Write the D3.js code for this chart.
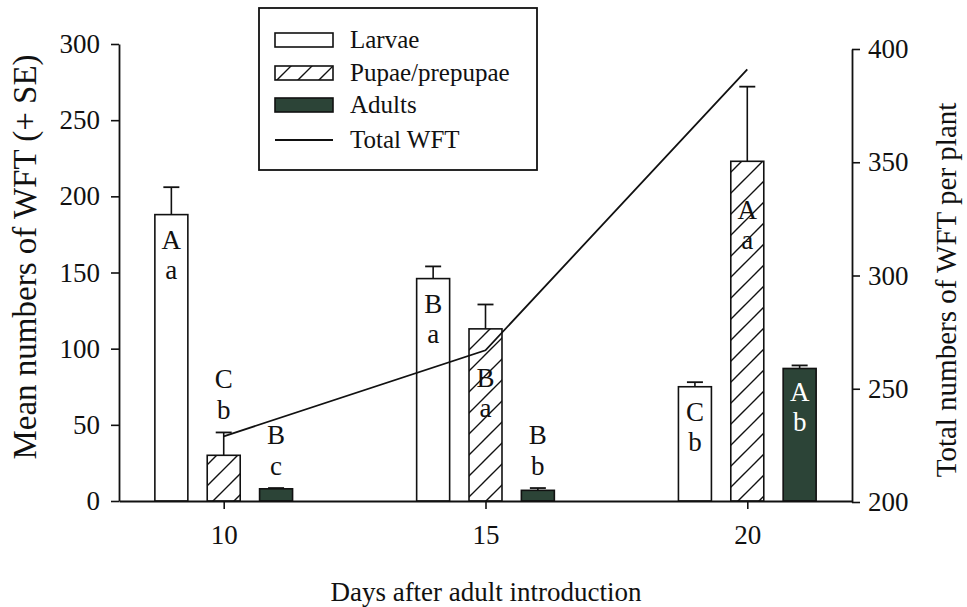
<!DOCTYPE html>
<html><head><meta charset="utf-8">
<script src="https://cdn.jsdelivr.net/npm/d3@7"></script>
<style>
body{margin:0;background:#fff;}
svg{display:block;font-family:"Liberation Serif","Times New Roman",serif;}
</style></head>
<body><svg id="c" width="967" height="607"></svg>
<script>
const days = [10, 15, 20];
const larvae = [188, 146, 75];
const larvaeErr = [206, 154, 78];
const pupae = [30, 113, 223];
const pupaeErr = [45, 129, 272];
const adults = [8, 7, 87];
const adultsErr = [8.5, 8.5, 89];
const totalWFT = [229, 267, 391];
const larvaeLetters = [["A","a"],["B","a"],["C","b"]];
const pupaeLetters = [["C","b"],["B","a"],["A","a"]];
const adultsLetters = [["B","c"],["B","b"],["A","b"]];
const leftTicks = [0, 50, 100, 150, 200, 250, 300];
const rightTicks = [200, 250, 300, 350, 400];
const seriesNames = ["Larvae", "Pupae/prepupae", "Adults", "Total WFT"];

const svg = d3.select("#c");
const x = d3.scaleLinear().domain([8, 22]).range([119, 852]);
const yL = d3.scaleLinear().domain([0, 300]).range([501, 44]);
const yR = d3.scaleLinear().domain([200, 400]).range([502, 49]);
const dark = "#2c4437";

const defs = svg.append("defs");
const pat = defs.append("pattern").attr("id","hatch").attr("patternUnits","userSpaceOnUse")
  .attr("width",21).attr("height",21);
pat.append("rect").attr("width",21).attr("height",21).attr("fill","#fff");
pat.append("path").attr("d","M-3,24 L24,-3 M-3,3 L3,-3 M18,24 L24,18")
  .attr("stroke","#111").attr("stroke-width",1.4);

const series = [
  {vals: larvae, err: larvaeErr, letters: larvaeLetters, off: -1, fill: "#fff", inOff: 34, txt:"#111"},
  {vals: pupae, err: pupaeErr, letters: pupaeLetters, off: 0, fill: "url(#hatch)", inOff: 58, txt:"#111"},
  {vals: adults, err: adultsErr, letters: adultsLetters, off: 1, fill: dark, inOff: 33, txt:"#fff"}
];
const bw = x(8.63) - x(8);

series.forEach(s => {
  const g = svg.append("g");
  days.forEach((d, i) => {
    const cx = x(d + s.off);
    const top = yL(s.vals[i]);
    const et = yL(s.err[i]);
    if (et < top - 0.5) {
      g.append("line").attr("x1",cx).attr("x2",cx).attr("y1",top).attr("y2",et)
        .attr("stroke","#111").attr("stroke-width",1.6);
      g.append("line").attr("x1",cx-8).attr("x2",cx+8).attr("y1",et).attr("y2",et)
        .attr("stroke","#111").attr("stroke-width",1.8);
    }
    g.append("rect").attr("x",cx-bw/2).attr("y",top).attr("width",bw)
      .attr("height",yL(0)-top).attr("fill",s.fill)
      .attr("stroke","#111").attr("stroke-width",1.6);
  });
});

svg.append("path").datum(days)
  .attr("d", d3.line().x(d => x(d)).y((d,i) => yR(totalWFT[i])))
  .attr("fill","none").attr("stroke","#111").attr("stroke-width",1.8);

series.forEach(s => {
  days.forEach((d, i) => {
    const cx = x(d + s.off);
    const top = yL(s.vals[i]);
    const et = yL(s.err[i]);
    let b1, b2, col;
    if (s.vals[i] > 50) { b1 = top + s.inOff; b2 = b1 + 30; col = s.txt; }
    else { b2 = et - 13; b1 = b2 - 31; col = "#111"; }
    svg.append("text").attr("x",cx).attr("y",b1).attr("text-anchor","middle")
      .attr("font-size",27).attr("fill",col).text(s.letters[i][0]);
    svg.append("text").attr("x",cx).attr("y",b2).attr("text-anchor","middle")
      .attr("font-size",27).attr("fill",col).text(s.letters[i][1]);
  });
});

function styleAxis(g){
  g.selectAll("path.domain").attr("stroke","#111").attr("stroke-width",1.8);
  g.selectAll(".tick line").attr("stroke","#111").attr("stroke-width",1.6);
  g.selectAll("text").attr("font-family","Liberation Serif").attr("font-size",27).attr("fill","#111");
}
svg.append("g").attr("transform","translate(119,0)")
  .call(d3.axisLeft(yL).tickValues(leftTicks).tickSize(8).tickSizeOuter(0).tickPadding(11))
  .call(styleAxis);
svg.append("g").attr("transform","translate(852,0)")
  .call(d3.axisRight(yR).tickValues(rightTicks).tickSize(8).tickSizeOuter(0).tickPadding(8))
  .call(styleAxis);
svg.append("g").attr("transform",`translate(0,${yL(0)})`)
  .call(d3.axisBottom(x).tickValues(days).tickSize(8).tickSizeOuter(0).tickPadding(16))
  .call(styleAxis);

svg.append("text").attr("transform","translate(36,257) rotate(-90)").attr("text-anchor","middle")
  .attr("font-size",33).attr("fill","#111").text("Mean numbers of WFT (+ SE)");
svg.append("text").attr("transform","translate(956,290) rotate(-90)").attr("text-anchor","middle")
  .attr("font-size",29).attr("fill","#111").text("Total numbers of WFT per plant");
svg.append("text").attr("x",486).attr("y",601).attr("text-anchor","middle")
  .attr("font-size",27).attr("fill","#111").text("Days after adult introduction");

const lg = svg.append("g");
lg.append("rect").attr("x",259).attr("y",8).attr("width",278).attr("height",162)
  .attr("fill","#fff").attr("stroke","#111").attr("stroke-width",1.8);
const fills = ["#fff","url(#hatch)",dark];
const rowY = [40, 73, 105, 140];
seriesNames.forEach((n, i) => {
  if (i < 3) {
    lg.append("rect").attr("x",275).attr("y",rowY[i]-7).attr("width",58).attr("height",14)
      .attr("fill",fills[i]).attr("stroke","#111").attr("stroke-width",1.6);
  } else {
    lg.append("line").attr("x1",275).attr("x2",333).attr("y1",rowY[i]).attr("y2",rowY[i])
      .attr("stroke","#111").attr("stroke-width",1.8);
  }
  lg.append("text").attr("x",350).attr("y",rowY[i]+8).attr("font-size",25).attr("fill","#111").text(n);
});
</script></body></html>
